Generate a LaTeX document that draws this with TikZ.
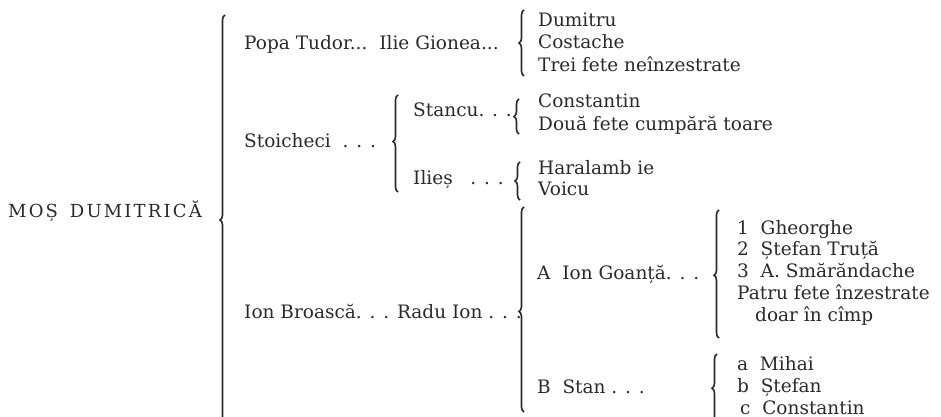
\documentclass[tikz,border=0pt]{standalone}
\usepackage{fontspec}
\setmainfont{DejaVu Serif}
\usetikzlibrary{decorations.pathreplacing}
\definecolor{ink}{HTML}{2A2A2A}
\tikzset{
  lbl/.style={anchor=base west, inner sep=0pt, text=ink, font=\fontsize{18.5}{22}\selectfont},
  brc/.style={draw=ink, line width=1.6pt, decorate, decoration={brace, amplitude=5pt, aspect=#1}},
  brc/.default=0.5
}
\begin{document}
\begin{tikzpicture}[x=1pt, y=-1pt]
\useasboundingbox (0,0) rectangle (941,417);
% labels
\node[lbl, font=\fontsize{18}{22}\selectfont\addfontfeature{LetterSpace=12}] (mos) at (8,217) {MOȘ\hspace{4pt} DUMITRICĂ};
\node[lbl] (popa) at (244,50) {Popa Tudor...\hspace{4pt} Ilie Gionea...};
\node[lbl] (dum) at (538,27) {Dumitru};
\node[lbl] (cos) at (538,49) {Costache};
\node[lbl] (trei) at (538,72) {Trei fete neînzestrate};
\node[lbl] (stoi) at (244,147) {Stoicheci\ \ . . .};
\node[lbl] (stancu) at (413,117) {Stancu. . .};
\node[lbl] (const1) at (538,108) {Constantin};
\node[lbl] (doua) at (538,130) {Două fete cumpără toare};
\node[lbl] (ilies) at (413,184) {Ilieș\ \ \ . . .};
\node[lbl] (hara) at (538,174) {Haralamb ie};
\node[lbl] (voicu) at (538,195) {Voicu};
\node[lbl] (ionb) at (244,318) {Ion Broască. . . Radu Ion . . .};
\node[lbl] (goanta) at (537,279) {A\ \ Ion Goanță. . .};
\node[lbl] (gh) at (737,234) {1\ \ Gheorghe};
\node[lbl] (st) at (737,255) {2\ \ Ștefan Truță};
\node[lbl] (sm) at (737,277) {3\ \ A. Smărăndache};
\node[lbl] (patru) at (737,299) {Patru fete înzestrate};
\node[lbl] (doar) at (755,321) {doar în cîmp};
\node[lbl] (stan) at (537,393) {B\ \ Stan . . .};
\node[lbl] (mihai) at (737,370) {a\ \ Mihai};
\node[lbl] (stef) at (737,392) {b\ \ Ștefan};
\node[lbl] (const2) at (740,414) {c\ \ Constantin};
% brace end points
\coordinate (b0s) at (225,425); \coordinate (b0e) at (225,15);
\coordinate (b1s) at (524,76);  \coordinate (b1e) at (524,10);
\coordinate (b2s) at (398,192); \coordinate (b2e) at (398,95);
\coordinate (b3s) at (519,134); \coordinate (b3e) at (519,99);
\coordinate (b4s) at (520,200); \coordinate (b4e) at (520,162);
\coordinate (b5s) at (524,412); \coordinate (b5e) at (524,207);
\coordinate (b6s) at (719,338); \coordinate (b6e) at (719,210);
\coordinate (b7s) at (717,430); \coordinate (b7e) at (717,354);
\draw[brc=0.5] (b0s) -- (b0e);
\draw[brc=0.5] (b1s) -- (b1e);
\draw[brc=0.52] (b2s) -- (b2e);
\draw[brc=0.5] (b3s) -- (b3e);
\draw[brc=0.5] (b4s) -- (b4e);
\draw[brc=0.49] (b5s) -- (b5e);
\draw[brc=0.49] (b6s) -- (b6e);
\draw[brc=0.55] (b7s) -- (b7e);
\end{tikzpicture}
\end{document}
